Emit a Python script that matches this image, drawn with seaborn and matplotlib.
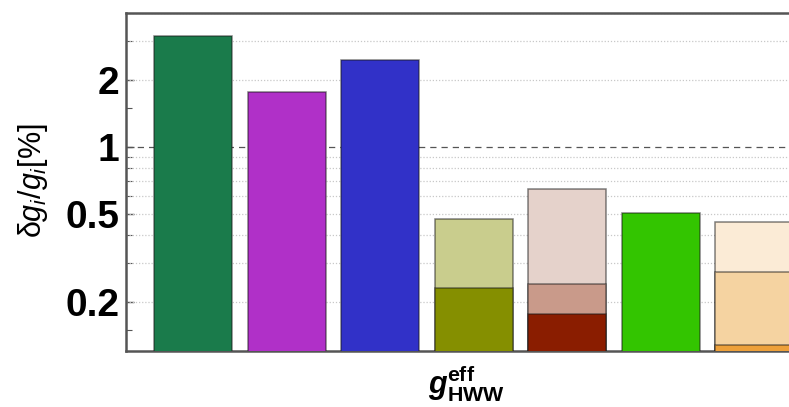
import matplotlib
matplotlib.use("Agg")
import matplotlib.pyplot as plt
import seaborn as sns
import pandas as pd

# Relative precision on the effective HWW coupling for each scenario (%)
scenarios = ["S1", "S2", "S3", "S4", "S5", "S6", "S7"]
total_err = [3.15, 1.76, 2.47, 0.475, 0.646, 0.505, 0.458]
mid_scenarios = ["S5", "S7"]
mid_err = [0.24, 0.272]
low_scenarios = ["S4", "S5", "S7"]
low_err = [0.232, 0.177, 0.128]

total_colors = ["#1A7B4B", "#B030C8", "#3131C8", "#C9CD8D", "#E5D2CB", "#33C500", "#FBEBD6"]
mid_colors = ["#C99A8A", "#F5D3A1"]
low_colors = ["#858F00", "#8A1D00", "#EDA03A"]

ytick_major = [0.2, 0.5, 1, 2]
ytick_labels = ["0.2", "0.5", "1", "2"]
ytick_minor = [0.15, 0.3, 0.4, 0.6, 0.7, 0.8, 0.9, 1.5, 3]
grid_levels = [0.2, 0.3, 0.4, 0.5, 0.6, 0.7, 0.8, 0.9, 2, 3, 4]

sns.set_theme(style="white")
plt.rcParams["font.family"] = ["Liberation Sans", "DejaVu Sans"]
plt.rcParams["text.color"] = "black"
plt.rcParams["ytick.color"] = "black"
plt.rcParams["ytick.labelcolor"] = "black"
plt.rcParams["mathtext.fontset"] = "custom"
plt.rcParams["mathtext.rm"] = "Liberation Sans"
plt.rcParams["mathtext.it"] = "Liberation Sans:italic"
plt.rcParams["mathtext.bf"] = "Liberation Sans:bold"
plt.rcParams["mathtext.bfit"] = "Liberation Sans:italic:bold"

fig = plt.figure(figsize=(7.89, 4.07), dpi=100)
ax = fig.add_axes([0.1597, 0.1376, 0.862, 0.8297])

layers = [
    (scenarios, total_err, total_colors),
    (mid_scenarios, mid_err, mid_colors),
    (low_scenarios, low_err, low_colors),
]
for names, vals, cols in layers:
    df = pd.DataFrame({"scenario": names, "err": vals})
    sns.barplot(data=df, x="scenario", y="err", hue="scenario",
                palette=dict(zip(names, cols)), order=scenarios,
                width=0.834, saturation=1, legend=False, ax=ax,
                edgecolor=(0.1, 0.1, 0.1, 0.55), linewidth=1.1,
                zorder=3)

ax.set_yscale("log")
ax.set_ylim(0.12, 4)
ax.set_xlim(-0.716, 6.553)

for lv in grid_levels:
    ax.axhline(lv, color="#c8c8c8", lw=0.9, ls=(0, (1, 1.5)), zorder=1)
ax.axhline(1, color="#555555", lw=0.9, ls=(0, (5, 4)), zorder=1)

ax.set_yticks(ytick_major)
ax.set_yticklabels(ytick_labels, fontsize=28, fontweight="bold", color="black")
ax.set_yticks(ytick_minor, minor=True)
ax.yaxis.set_minor_formatter(matplotlib.ticker.NullFormatter())
ax.tick_params(axis="y", which="major", direction="in", length=6, width=1.0,
               color="#555555", pad=5, left=True)
ax.tick_params(axis="y", which="minor", direction="in", length=4, width=0.8,
               color="#555555", left=True)
ax.set_xticks([])
ax.set_xlabel("")
ax.set_ylabel("")

for side in ["left", "bottom", "top"]:
    ax.spines[side].set_color("#555555")
    ax.spines[side].set_linewidth(1.8)
ax.spines["right"].set_visible(False)

fig.text(33 / 789, 1 - 181 / 407, r"$\mathrm{\delta}g_i/g_i$[%]", rotation=90,
         ha="center", va="center", fontsize=22, color="black")
fig.text(466 / 789, 1 - 384 / 407, r"$\mathbfit{g}^{\mathbf{eff}}_{\mathbf{HWW}}$",
         ha="center", va="center", fontsize=22, color="black")

fig.savefig("out.png", dpi=100)
